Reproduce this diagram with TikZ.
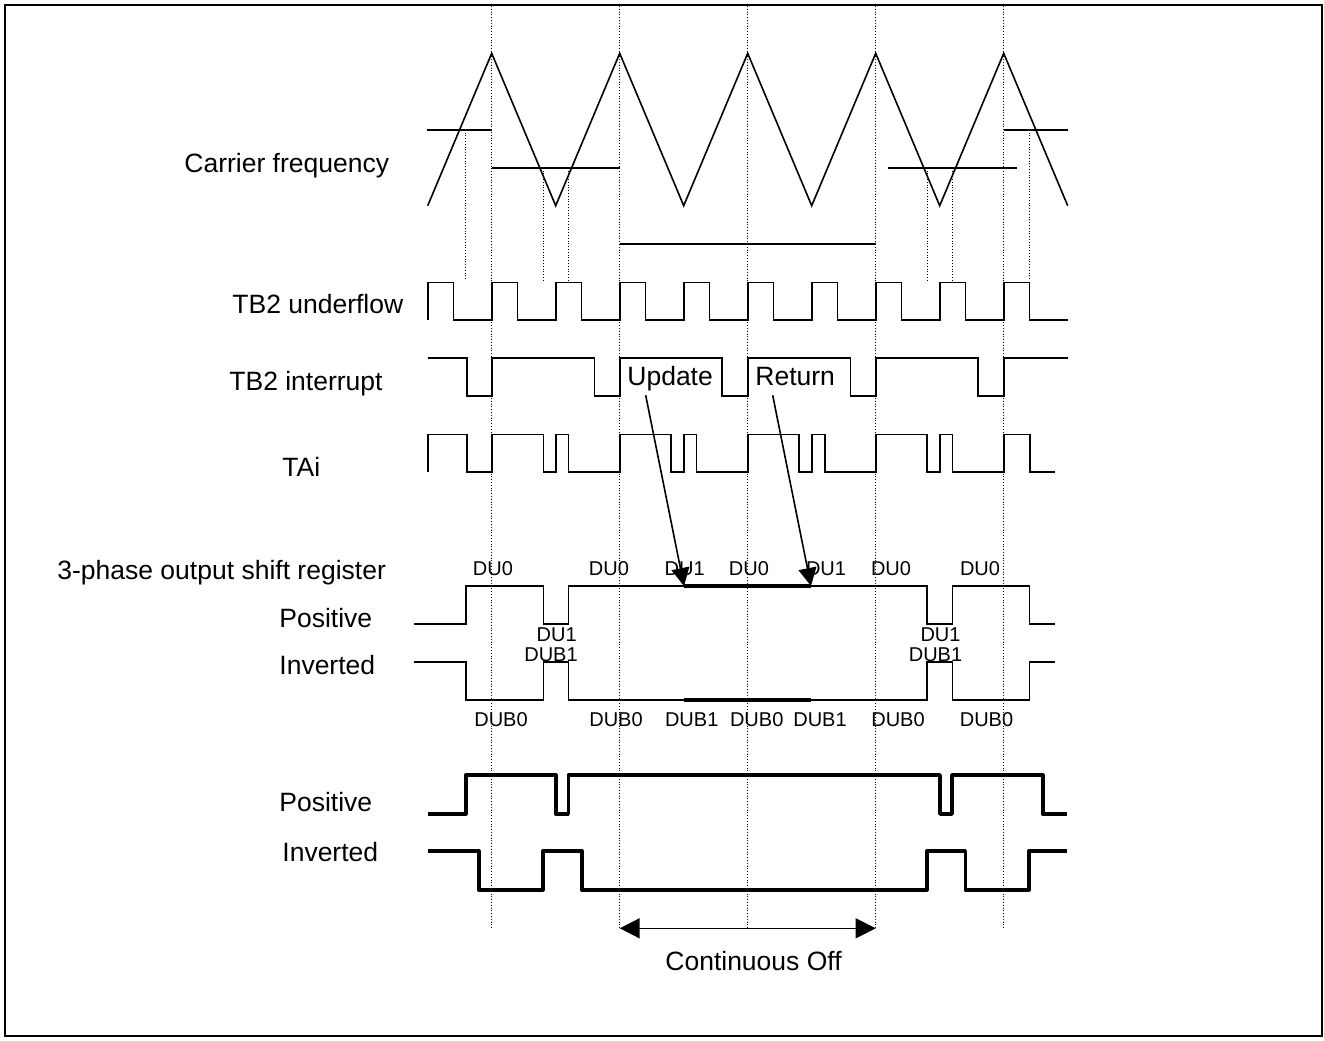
\documentclass[tikz,border=0pt]{standalone}
\usepackage{fontspec}
\setmainfont{Liberation Sans}
\usetikzlibrary{arrows.meta,calc,positioning}
\tikzset{>={Triangle[length=9pt,width=9pt]},
  wave/.style={draw=black,line width=.8pt,line join=miter},
  boldwave/.style={draw=black,line width=1.8pt,line join=round},
  levelline/.style={draw=black,line width=.85pt},
  hold/.style={draw=black,line width=1.8pt},
  guide/.style={draw=black,line width=.5pt,dash pattern=on .5pt off .9pt},
  lbl/.style={anchor=base west,inner sep=0pt,font=\fontsize{13.25}{15}\selectfont},
  tag/.style={anchor=base,inner sep=0pt,font=\fontsize{10}{12}\selectfont}}

\begin{document}
\begin{tikzpicture}[x=.5pt,y=-.5pt]
\path[use as bounding box] (0,0) rectangle (1324,1040);
\draw[line width=1pt] (4.7,5) rectangle (1322.3,1035.5);
% guides
\draw[guide] (491.7,6)--(491.7,928);\draw[guide] (619.7,6)--(619.7,928);\draw[guide] (747.7,6)--(747.7,928);
\draw[guide] (875.7,6)--(875.7,928);\draw[guide] (1003.7,6)--(1003.7,928);
\draw[guide] (465.7,129.7)--(465.7,280);\draw[guide] (543,167.7)--(543,280);\draw[guide] (568.3,167.7)--(568.3,280);
\draw[guide] (927,167.7)--(927,280);\draw[guide] (952.3,167.7)--(952.3,280);\draw[guide] (1029.3,129.7)--(1029.3,280);
% carrier
\draw[wave] (427.7,205.7)--(491.7,53.3)--(555.7,205.7)--(619.7,53.3)--(683.7,205.7)--(747.7,53.3)
  --(811.7,205.7)--(875.7,53.3)--(939.7,205.7)--(1003.7,53.3)--(1067.7,205.7);
\draw[levelline] (427,129.7)--(491.7,129.7);\draw[levelline] (491.7,167.7)--(619.7,167.7);
\draw[levelline] (888,167.7)--(1017,167.7);\draw[levelline] (1003.7,129.7)--(1068,129.7);
\draw[levelline] (619.7,243.7)--(875.7,243.7);
\node[lbl] (carrier) at (184,172.7) {Carrier frequency};
% TB2 underflow
\draw[wave] (427.7,320) |- (453.3,282.3) |- (491.7,320) |- (517.3,282.3) |- (555.7,320) |- (581.3,282.3)
  |- (619.7,320) |- (645.3,282.3) |- (683.7,320) |- (709.3,282.3) |- (747.7,320) |- (773.3,282.3)
  |- (811.7,320) |- (837.3,282.3) |- (875.7,320) |- (901.3,282.3) |- (939.7,320) |- (965.3,282.3)
  |- (1003.7,320) |- (1029.3,282.3) |- (1068,320);
\node[lbl] (underflow) at (232,313.5) {TB2 underflow};
% TB2 interrupt
\draw[wave] (427.7,357.7) -| (466.7,396) -| (491.7,357.7) -| (594.3,396) -| (619.7,357.7) -| (722,396)
  -| (747.7,357.7) -| (850.3,396) -| (875.7,357.7) -| (978,396) -| (1003.7,357.7) -- (1068,357.7);
\node[lbl] (interrupt) at (229,390.5) {TB2 interrupt};
\node[lbl] (update) at (627,385) {Update};
\node[lbl] (return) at (755,385) {Return};
% TAi
\draw[wave] (427.7,471.7) |- (466.7,434.3) |- (491.7,471.7) |- (543.3,434.3) |- (555.7,471.7) |- (568.3,434.3)
  |- (619.7,471.7) |- (670.7,434.3) |- (683.7,471.7) |- (696.3,434.3) |- (747.7,471.7) |- (799,434.3)
  |- (811.7,471.7) |- (825,434.3) |- (875.7,471.7) |- (927,434.3) |- (939.7,471.7) |- (952.3,434.3)
  |- (1003.7,471.7) |- (1029.7,434.3) |- (1055,471.7);
\node[lbl] (tai) at (282,476.5) {TAi};
% shift register
\node[lbl] (shreg) at (57,579.5) {3-phase output shift register};
\node[lbl] (regpos) at (279,627.5) {Positive};
\node[lbl] (reginv) at (279,674.5) {Inverted};
\draw[wave] (414.3,623.7) -| (465.7,586) -| (543.3,623.7) -| (568.3,586) -| (927,623.7) -| (952.3,586)
  -| (1029.3,623.7) -- (1055,623.7);
\draw[wave] (414.3,662) -| (465.7,699.7) -| (543.3,662) -| (568.3,699.7) -| (927,662) -| (952.3,699.7)
  -| (1029.3,662) -- (1055,662);
\draw[hold] (684,586)--(811,586);\draw[hold] (684,699.7)--(811,699.7);
\node[tag] (du0a) at (493,575) {DU0};\node[tag] (du0b) at (609,575) {DU0};\node[tag] (du1a) at (684.7,575) {DU1};
\node[tag] (du0c) at (749,575) {DU0};\node[tag] (du1b) at (826,575) {DU1};\node[tag] (du0d) at (891,575) {DU0};
\node[tag] (du0e) at (980,575) {DU0};
\node[tag] (du1l) at (556.7,641.7) {DU1};\node[tag] (dub1l) at (551,661.7) {DUB1};
\node[tag] (du1r) at (940.5,641.7) {DU1};\node[tag] (dub1r) at (935.5,661.7) {DUB1};
\node[tag] (dub0a) at (501,726.7) {DUB0};\node[tag] (dub0b) at (616,726.7) {DUB0};\node[tag] (dub1a) at (691.7,726.7) {DUB1};
\node[tag] (dub0c) at (756.7,726.7) {DUB0};\node[tag] (dub1b) at (820,726.7) {DUB1};\node[tag] (dub0d) at (898,726.7) {DUB0};
\node[tag] (dub0e) at (986.5,726.7) {DUB0};
\coordinate (updfrom) at (645.7,395.3);\coordinate (updto) at (684,586);
\coordinate (retfrom) at (772.7,395.3);\coordinate (retto) at (811,586);
\draw[->,line width=.8pt] (updfrom)--(updto);
\draw[->,line width=.8pt] (retfrom)--(retto);
% outputs
\node[lbl] (outpos) at (279,811.5) {Positive};
\node[lbl] (outinv) at (282,861.5) {Inverted};
\draw[boldwave] (427.7,814) -| (465.7,775) -| (555.7,814) -| (568.3,775) -| (940,814) -| (952,775)
  -| (1042.7,814) -- (1067.3,814);
\draw[boldwave] (427.7,851) -| (478.7,890) -| (542.7,851) -| (581.7,890) -| (926.7,851) -| (965.3,890)
  -| (1028.7,851) -- (1067.3,851);
\coordinate (offA) at (619.7,928.3);\coordinate (offB) at (875.7,928.3);
\draw[<->,>={Triangle[length=10pt,width=10pt]},line width=.8pt] (offA)--(offB);
\node[lbl] (contoff) at (665,970.7) {Continuous Off};
\end{tikzpicture}
\end{document}
